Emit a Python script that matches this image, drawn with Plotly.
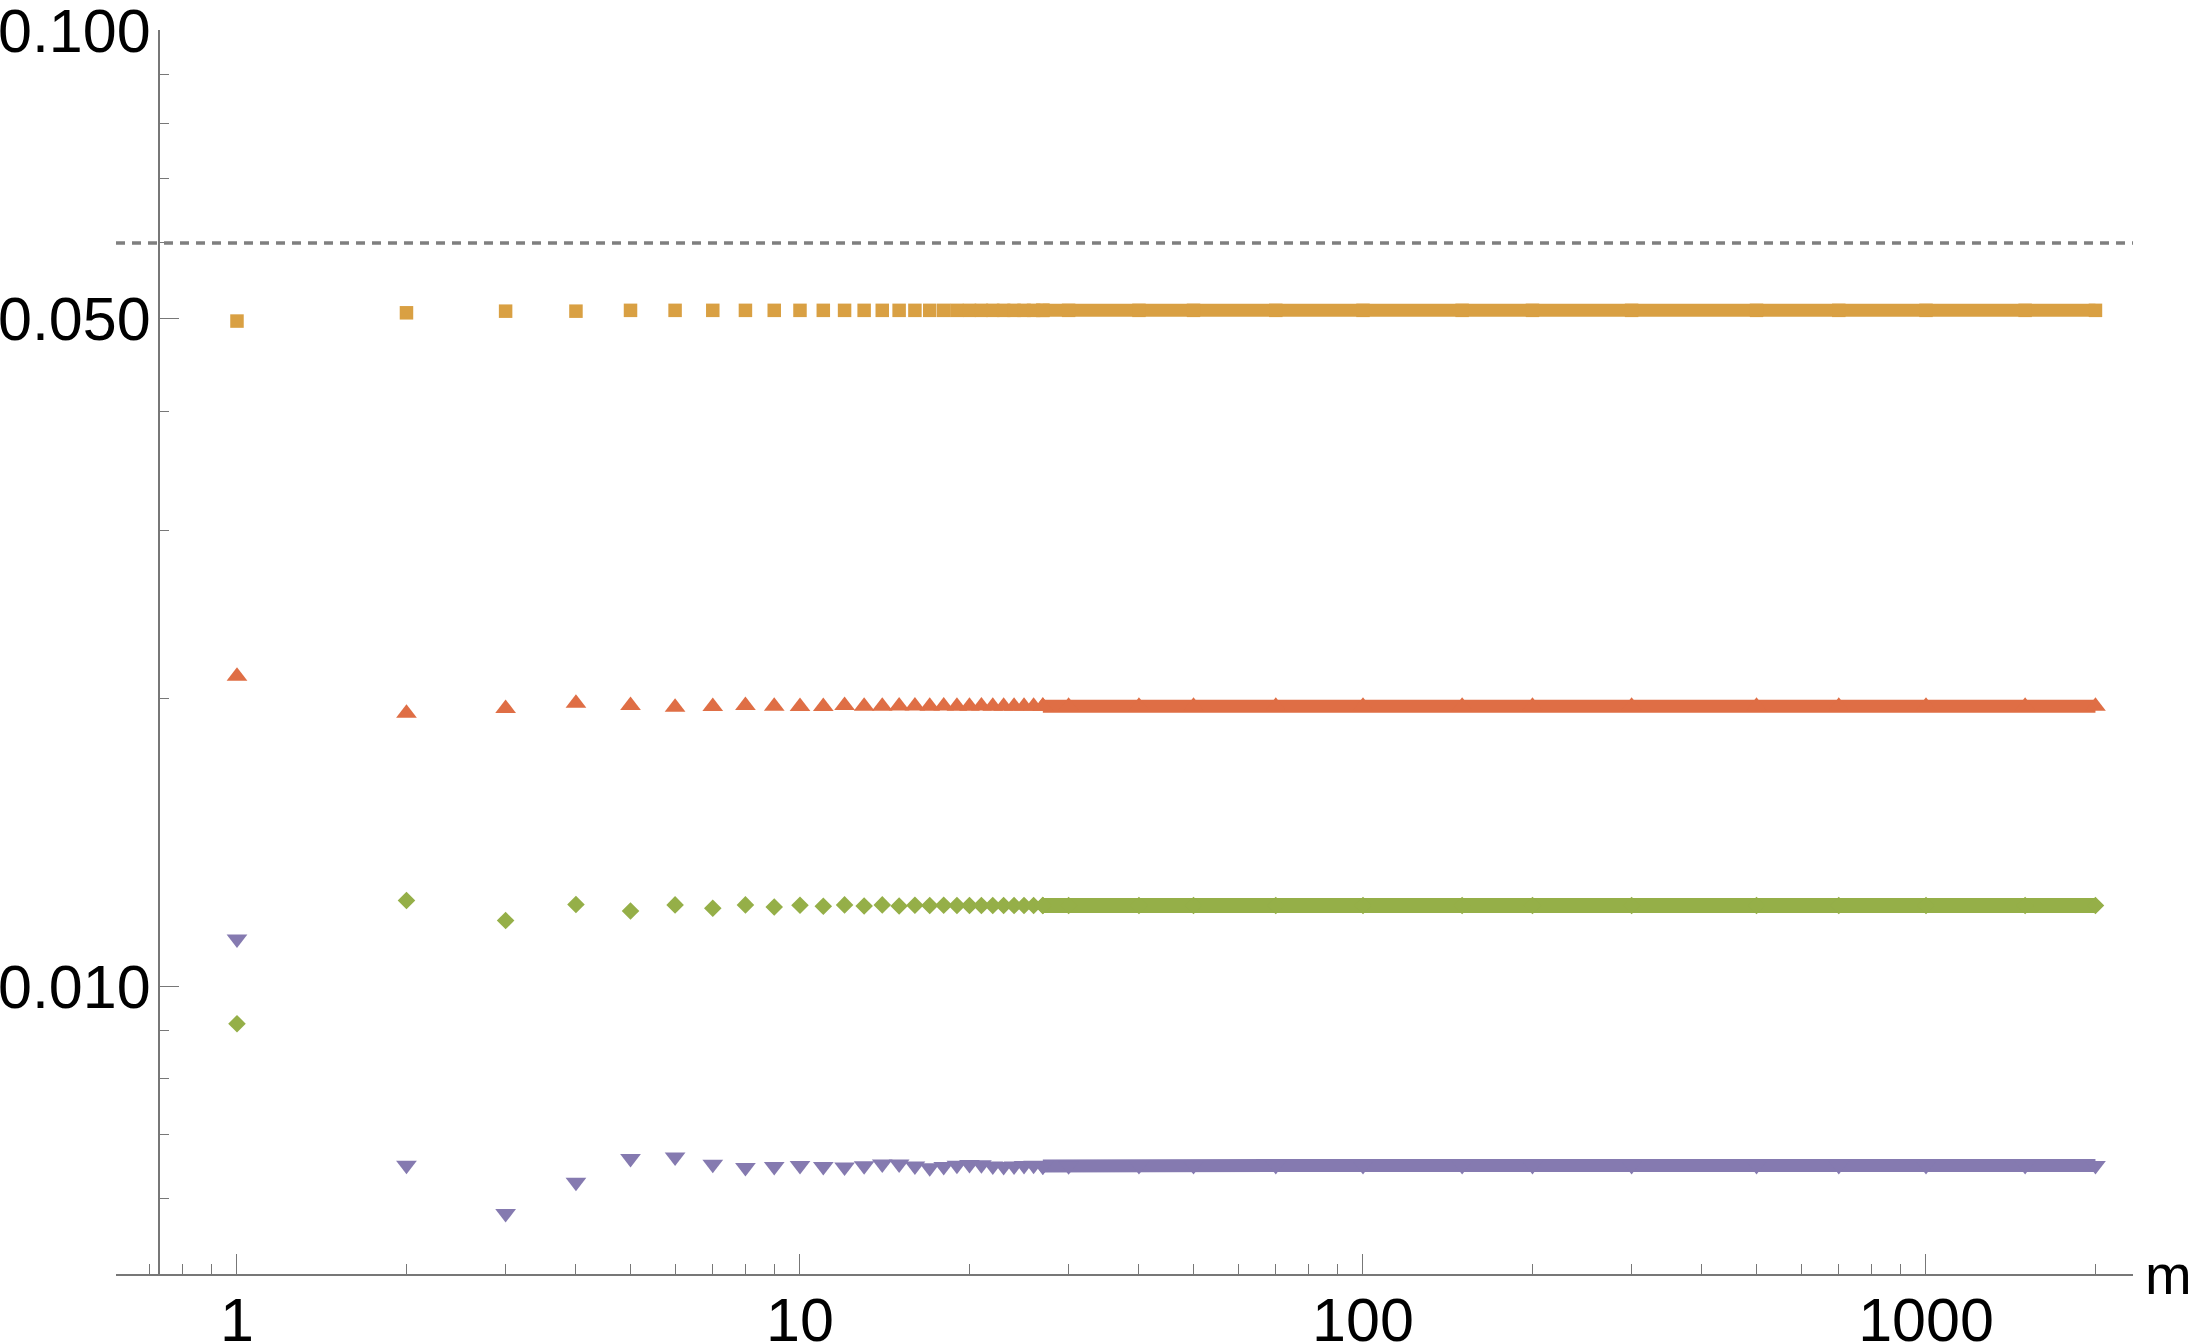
import plotly.graph_objects as go

# m values that are drawn one by one, and the converged tail
m_head = list(range(1, 28))
m_tail = [27, 30, 40, 50, 70, 100, 150, 200, 300, 500, 700, 1000, 1500, 2000]

# orange squares
sq_head = [0.0497, 0.0507, 0.0509, 0.0509, 0.0510, 0.0510, 0.0510, 0.0510, 0.0510,
           0.0510, 0.0510, 0.0510, 0.0510, 0.0510, 0.0510, 0.0510, 0.0510, 0.0510,
           0.0510, 0.0510, 0.0510, 0.0510, 0.0510, 0.0510, 0.0510, 0.0510, 0.0510]
sq_tail = [0.0510, 0.0510, 0.0510, 0.0510, 0.0510, 0.0510, 0.0510, 0.0510, 0.0510,
           0.0510, 0.0510, 0.0510, 0.0510, 0.0510]

# red up-triangles
tu_head = [0.02112, 0.01932, 0.01954, 0.01978, 0.01968, 0.01959, 0.01963, 0.01968, 0.01964,
           0.01963, 0.01963, 0.01968, 0.01964, 0.01964, 0.01965, 0.01966, 0.01964, 0.01965,
           0.01964, 0.01964, 0.01965, 0.01964, 0.01964, 0.01964, 0.01964, 0.01964, 0.01964]
tu_tail = [0.01964, 0.01964, 0.01964, 0.01964, 0.01964, 0.01964, 0.01964, 0.01964, 0.01964,
           0.01964, 0.01964, 0.01964, 0.01964, 0.01964]

# green diamonds
di_head = [0.00914, 0.01230, 0.01172, 0.01218, 0.01199, 0.01217, 0.01207, 0.01217, 0.01211,
           0.01216, 0.01213, 0.01217, 0.01214, 0.01217, 0.01214, 0.01216, 0.01215, 0.01216,
           0.01215, 0.01215, 0.01215, 0.01215, 0.01215, 0.01215, 0.01215, 0.01215, 0.01215]
di_tail = [0.01215, 0.01215, 0.01215, 0.01215, 0.01215, 0.01215, 0.01215, 0.01215, 0.01215,
           0.01215, 0.01215, 0.01215, 0.01215, 0.01215]

# purple down-triangles
td_head = [0.01121, 0.006497, 0.005785, 0.006237, 0.006603, 0.006627, 0.006514, 0.006462,
           0.006479, 0.006496, 0.006479, 0.006469, 0.006491, 0.006516, 0.006516, 0.006485,
           0.006459, 0.006478, 0.006498, 0.006508, 0.006505, 0.006485, 0.006479, 0.006485,
           0.006496, 0.006498, 0.006487]
td_tail = [0.006487, 0.006492, 0.006494, 0.006494, 0.006494, 0.006494, 0.006494, 0.006494,
           0.006494, 0.006494, 0.006494, 0.006494, 0.006494, 0.006494]

ref_level = 0.06

x_major = [1, 10, 100, 1000]
x_major_text = ["1", "10", "100", "1000"]
x_minor = [0.7, 0.8, 0.9, 2, 3, 4, 5, 6, 7, 8, 9, 20, 30, 40, 50, 60, 70, 80, 90,
           200, 300, 400, 500, 600, 700, 800, 900, 2000]
y_major = [0.01, 0.05, 0.1]
y_major_text = ["0.010", "0.050", "0.100"]
y_minor = [0.006, 0.007, 0.008, 0.009, 0.02, 0.03, 0.04, 0.06, 0.07, 0.08, 0.09]

series = [
    (sq_head, sq_tail, "#D9A043", "square", 13.5, 13),
    (tu_head, tu_tail, "#DF6E45", "triangle-up", 18, 13),
    (di_head, di_tail, "#95AF48", "diamond", 13.5, 15),
    (td_head, td_tail, "#857AB0", "triangle-down", 18, 13),
]

fig = go.Figure()
for head, tail, col, sym, size, band in series:
    fig.add_trace(go.Scatter(x=m_tail, y=tail, mode="lines+markers",
                             line=dict(color=col, width=band),
                             marker=dict(symbol=sym, size=size, color=col),
                             showlegend=False, hoverinfo="skip"))
    fig.add_trace(go.Scatter(x=m_head, y=head, mode="markers",
                             marker=dict(symbol=sym, size=size, color=col),
                             showlegend=False))

fig.add_shape(type="line", xref="paper", x0=0, x1=1, yref="y", y0=ref_level, y1=ref_level,
              line=dict(color="#7f7f7f", width=3.5, dash="9px,7px"))

font = dict(family="Liberation Sans, Arial, sans-serif", size=61, color="black")
axcol = "#777777"

fig.update_layout(
    width=2200, height=1344,
    margin=dict(l=116, r=67, t=30, b=70),
    paper_bgcolor="white", plot_bgcolor="white",
    font=font,
    xaxis=dict(type="log", range=[-0.2149, 3.3677], automargin=False,
               showline=True, linecolor=axcol, linewidth=1.5,
               showgrid=False, zeroline=False,
               tickmode="array", tickvals=x_major, ticktext=x_major_text,
               ticks="inside", ticklen=20, tickwidth=1.3, tickcolor=axcol,
               ticklabelstandoff=-8, ticklabeloverflow="allow",
               minor=dict(tickvals=x_minor, ticks="inside", ticklen=10,
                          tickwidth=1.3, tickcolor=axcol, showgrid=False)),
    yaxis=dict(type="log", range=[-2.30103, -0.999], automargin=False,
               anchor="free", position=0.0211,
               showline=True, linecolor=axcol, linewidth=1.5,
               showgrid=False, zeroline=False,
               tickmode="array", tickvals=y_major, ticktext=y_major_text,
               ticks="inside", ticklen=20, tickwidth=1.3, tickcolor=axcol,
               ticklabelstandoff=-5, ticklabeloverflow="allow",
               minor=dict(tickvals=y_minor, ticks="inside", ticklen=10,
                          tickwidth=1.3, tickcolor=axcol, showgrid=False)),
)

fig.add_annotation(text="m", xref="paper", yref="paper", x=1.005, y=0,
                   xanchor="left", yanchor="middle", showarrow=False,
                   font=dict(family="Liberation Sans, Arial, sans-serif", size=56, color="black"))

# the page has a default body margin; remove it so the figure sits at 0,0
fig.write_html("out.html", config={"displayModeBar": False},
               post_script="document.body.style.margin='0';")
